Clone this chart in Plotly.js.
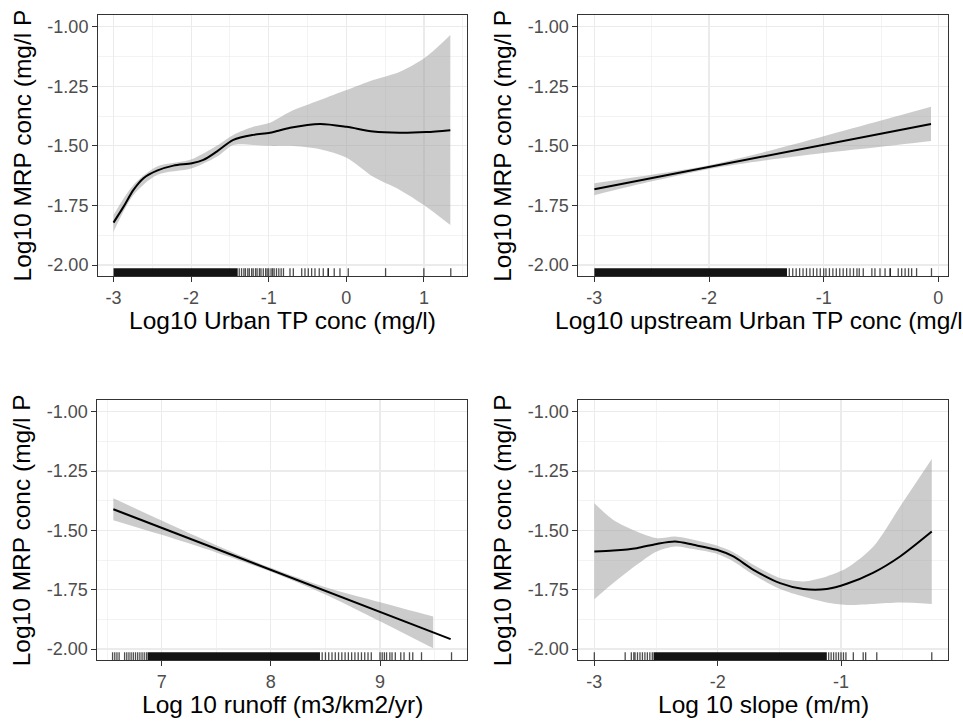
<!DOCTYPE html>
<html>
<head>
<meta charset="utf-8">
<script src="https://cdn.plot.ly/plotly-3.0.1.min.js"></script>
<style>html,body{margin:0;padding:0;background:#fff;} #chart{width:963px;height:722px;}</style>
</head>
<body>
<div id="chart"></div>
<script>
// ---------- shared tick labels ----------
const yTickVals = [-2, -1.75, -1.5, -1.25, -1];
const yTickText = ['-2.00', '-1.75', '-1.50', '-1.25', '-1.00'];
const yMinorVals = [-2.125, -1.875, -1.625, -1.375, -1.125, -0.875];

const yTitle = 'Log10 MRP conc (mg/l P';
const xTitles = ['Log10 Urban TP conc (mg/l)', 'Log10 upstream Urban TP conc (mg/l)',
                 'Log 10 runoff (m3/km2/yr)', 'Log 10 slope (m/m)'];

// ---------- Panel 1: Urban TP ----------
const p1TickVals = [-3, -2, -1, 0, 1];
const p1TickText = ['-3', '-2', '-1', '0', '1'];
const p1MinorVals = [-3.5, -2.5, -1.5, -0.5, 0.5, 1.5];
const p1X = [-3, -2.87, -2.743, -2.614, -2.44, -2.228, -1.99, -1.842, -1.67, -1.456, -1.198, -0.983, -0.725, -0.339, 0.004, 0.346, 0.69, 1.03, 1.34];
const p1Fit = [-1.822, -1.755, -1.685, -1.636, -1.604, -1.583, -1.573, -1.559, -1.524, -1.475, -1.454, -1.445, -1.424, -1.408, -1.42, -1.44, -1.445, -1.442, -1.434];
const p1RibX = [-3, -2.743, -2.44, -1.99, -1.67, -1.456, -1.198, -0.983, -0.725, -0.339, 0.004, 0.346, 0.69, 1.03, 1.34];
const p1Upper = [-1.79, -1.664, -1.587, -1.556, -1.50, -1.454, -1.42, -1.403, -1.357, -1.308, -1.266, -1.224, -1.189, -1.126, -1.035];
const p1Lower = [-1.86, -1.706, -1.622, -1.594, -1.546, -1.496, -1.496, -1.50, -1.50, -1.514, -1.55, -1.63, -1.685, -1.755, -1.832];
const p1RugBands = [[-3, -1.40]];
const p1Rug = [-1.38, -1.35, -1.32, -1.3, -1.27, -1.25, -1.22, -1.2, -1.17, -1.15, -1.12, -1.1, -1.07, -1.04, -1.02, -1.0, -0.97, -0.95, -0.93, -0.9, -0.87, -0.84, -0.81,
  -0.726, -0.683, -0.575, -0.533, -0.49, -0.447, -0.404, -0.349, -0.297, -0.233, -0.233, -0.156, -0.082, 0.025, 0.506, 0.999, 1.346];

// ---------- Panel 2: upstream Urban TP ----------
const p2TickVals = [-3, -2, -1, 0];
const p2TickText = ['-3', '-2', '-1', '0'];
const p2MinorVals = [-2.5, -1.5, -0.5];
const p2X = [-3, -0.064];
const p2Fit = [-1.682, -1.408];
const p2RibX = [-3, -2.5, -2, -1.5, -1, -0.5, -0.064];
const p2Upper = [-1.657, -1.621, -1.581, -1.524, -1.46, -1.394, -1.336];
const p2Lower = [-1.707, -1.649, -1.597, -1.56, -1.53, -1.504, -1.48];
const p2RugBands = [[-3, -1.32]];
const p2Rug = [-1.30, -1.27, -1.24, -1.21, -1.18, -1.15, -1.12, -1.09, -1.06, -1.03, -1.0, -0.98, -0.95, -0.92, -0.89, -0.86, -0.83, -0.8, -0.77, -0.74, -0.71, -0.69,
  -0.655, -0.58, -0.553, -0.509, -0.465, -0.42, -0.42, -0.35, -0.32, -0.29, -0.26, -0.233, -0.19, -0.06];

// ---------- Panel 3: runoff ----------
const p3TickVals = [7, 8, 9];
const p3TickText = ['7', '8', '9'];
const p3MinorVals = [6.5, 7.5, 8.5, 9.5];
const p3X = [6.557, 9.647];
const p3Fit = [-1.411, -1.958];
const p3RibX = [6.557, 7, 7.5, 8, 8.5, 9, 9.487];
const p3Upper = [-1.365, -1.459, -1.563, -1.658, -1.74, -1.803, -1.863];
const p3Lower = [-1.457, -1.519, -1.593, -1.674, -1.77, -1.883, -1.997];
const p3RugBands = [[6.87, 8.45]];
const p3Rug = [6.55, 6.57, 6.59, 6.61, 6.66, 6.68, 6.7, 6.72, 6.74, 6.76, 6.78, 6.8, 6.82, 6.84, 6.86,
  8.47, 8.5, 8.53, 8.56, 8.59, 8.62, 8.65, 8.68, 8.71, 8.74, 8.77, 8.8, 8.83, 8.86, 8.89, 8.92,
  9.0, 9.02, 9.04, 9.06, 9.09, 9.11, 9.14, 9.19, 9.22, 9.27, 9.3, 9.38, 9.655];

// ---------- Panel 4: slope ----------
const p4TickVals = [-3, -2, -1];
const p4TickText = ['-3', '-2', '-1'];
const p4MinorVals = [-2.5, -1.5, -0.5];
const p4X = [-3, -2.846, -2.656, -2.494, -2.345, -2.197, -2.007, -1.873, -1.71, -1.494, -1.305, -1.115, -0.953, -0.737, -0.521, -0.264];
const p4Fit = [-1.589, -1.585, -1.575, -1.557, -1.547, -1.561, -1.582, -1.61, -1.666, -1.722, -1.747, -1.747, -1.725, -1.678, -1.61, -1.505];
const p4RibX = [-3, -2.846, -2.656, -2.494, -2.345, -2.197, -2.007, -1.873, -1.71, -1.494, -1.305, -1.115, -0.953, -0.737, -0.521, -0.264];
const p4Upper = [-1.386, -1.456, -1.505, -1.533, -1.526, -1.54, -1.564, -1.592, -1.645, -1.701, -1.715, -1.694, -1.659, -1.568, -1.40, -1.20];
const p4Lower = [-1.79, -1.722, -1.645, -1.589, -1.568, -1.579, -1.599, -1.631, -1.687, -1.747, -1.779, -1.804, -1.814, -1.81, -1.804, -1.81];
const p4RugBands = [[-2.52, -1.115]];
const p4Rug = [-3.0, -2.75, -2.7, -2.68, -2.67, -2.65, -2.63, -2.61, -2.59, -2.57, -2.55, -2.53,
  -1.10, -1.08, -1.06, -1.04, -1.02, -1.0, -0.98, -0.96, -0.9, -0.82, -0.8, -0.71, -0.264];

// ---------- layout geometry ----------
const W = 963, H = 722;
const yRange = [-2.046, -0.951];
const rugTop = yRange[0] + 0.03 * (yRange[1] - yRange[0]);
const FONT = 'Liberation Sans, Arial, sans-serif';

const panels = [
  {xa: 'x', ya: 'y', px: [98, 467], py: [15, 276], xr: [-3.2, 1.555], tv: p1TickVals, tt: p1TickText, mv: p1MinorVals,
   x: p1X, fit: p1Fit, rx: p1RibX, up: p1Upper, lo: p1Lower, bands: p1RugBands, rug: p1Rug},
  {xa: 'x2', ya: 'y2', px: [578.3, 948], py: [15, 276], xr: [-3.14, 0.084], tv: p2TickVals, tt: p2TickText, mv: p2MinorVals,
   x: p2X, fit: p2Fit, rx: p2RibX, up: p2Upper, lo: p2Lower, bands: p2RugBands, rug: p2Rug},
  {xa: 'x3', ya: 'y3', px: [97.3, 466.7], py: [400, 660], xr: [6.41, 9.794], tv: p3TickVals, tt: p3TickText, mv: p3MinorVals,
   x: p3X, fit: p3Fit, rx: p3RibX, up: p3Upper, lo: p3Lower, bands: p3RugBands, rug: p3Rug},
  {xa: 'x4', ya: 'y4', px: [578.3, 948.3], py: [400, 660], xr: [-3.13, -0.13], tv: p4TickVals, tt: p4TickText, mv: p4MinorVals,
   x: p4X, fit: p4Fit, rx: p4RibX, up: p4Upper, lo: p4Lower, bands: p4RugBands, rug: p4Rug}
];

const traces = [];
const layout = {
  width: W, height: H, margin: {l: 0, r: 0, t: 0, b: 0},
  paper_bgcolor: '#ffffff', plot_bgcolor: '#ffffff', showlegend: false,
  font: {family: FONT, color: '#000'},
  annotations: []
};

panels.forEach((p, i) => {
  const axSuffix = i === 0 ? '' : String(i + 1);
  // confidence ribbon
  traces.push({type: 'scatter', mode: 'lines', x: p.rx, y: p.lo, xaxis: p.xa, yaxis: p.ya,
    line: {width: 0, shape: 'spline', smoothing: 0.8, color: 'rgba(0,0,0,0)'}, hoverinfo: 'skip'});
  traces.push({type: 'scatter', mode: 'lines', x: p.rx, y: p.up, xaxis: p.xa, yaxis: p.ya, fill: 'tonexty',
    fillcolor: 'rgba(153,153,153,0.5)', line: {width: 0, shape: 'spline', smoothing: 0.8, color: 'rgba(0,0,0,0)'}, hoverinfo: 'skip'});
  // fitted line
  traces.push({type: 'scatter', mode: 'lines', x: p.x, y: p.fit, xaxis: p.xa, yaxis: p.ya,
    line: {color: '#000', width: 2, shape: 'spline', smoothing: 0.8}});
  // rug: dense solid stretches
  p.bands.forEach(b => {
    traces.push({type: 'scatter', mode: 'lines', x: [b[0], b[1], b[1], b[0], b[0]],
      y: [yRange[0], yRange[0], rugTop, rugTop, yRange[0]], xaxis: p.xa, yaxis: p.ya,
      fill: 'toself', fillcolor: 'rgba(0,0,0,0.92)', line: {width: 0}, hoverinfo: 'skip'});
  });
  // rug: individual ticks
  const rx = [], ry = [];
  p.rug.forEach(v => { rx.push(v, v, null); ry.push(yRange[0], rugTop, null); });
  traces.push({type: 'scatter', mode: 'lines', x: rx, y: ry, xaxis: p.xa, yaxis: p.ya,
    line: {color: 'rgba(0,0,0,0.7)', width: 1.3}, hoverinfo: 'skip', connectgaps: false});

  const common = {
    showgrid: true, gridcolor: '#ebebeb', gridwidth: 1.2,
    ticks: 'outside', ticklen: 5, tickwidth: 1, tickcolor: '#333333',
    showline: true, linecolor: '#333333', linewidth: 1, mirror: true,
    zeroline: false, fixedrange: true,
    tickfont: {family: FONT, size: 18, color: '#4d4d4d'}
  };
  layout['xaxis' + axSuffix] = Object.assign({}, common, {
    domain: [p.px[0] / W, p.px[1] / W], range: p.xr, anchor: p.ya,
    tickmode: 'array', tickvals: p.tv, ticktext: p.tt,
    minor: {showgrid: true, gridcolor: '#ebebeb', gridwidth: 0.6, tickmode: 'array', tickvals: p.mv, ticks: ''}
  });
  layout['yaxis' + axSuffix] = Object.assign({}, common, {
    domain: [1 - p.py[1] / H, 1 - p.py[0] / H], range: yRange, anchor: p.xa,
    tickmode: 'array', tickvals: yTickVals, ticktext: yTickText,
    minor: {showgrid: true, gridcolor: '#ebebeb', gridwidth: 0.6, tickmode: 'array', tickvals: yMinorVals, ticks: ''}
  });
  // axis titles as annotations, centred on each panel
  const cx = (p.px[0] + p.px[1]) / 2, cy = (p.py[0] + p.py[1]) / 2;
  layout.annotations.push({xref: 'paper', yref: 'paper', x: cx / W, y: 1 - (p.py[1] + 44) / H,
    xanchor: 'center', yanchor: 'middle', showarrow: false, text: xTitles[i],
    font: {family: FONT, size: 24.5, color: '#000'}});
  layout.annotations.push({xref: 'paper', yref: 'paper', x: (p.px[0] - 76) / W, y: 1 - cy / H,
    xanchor: 'center', yanchor: 'middle', showarrow: false, textangle: -90, text: yTitle,
    font: {family: FONT, size: 24.5, color: '#000'}});
});

Plotly.newPlot('chart', traces, layout, {staticPlot: true, displayModeBar: false});
</script>
</body>
</html>
